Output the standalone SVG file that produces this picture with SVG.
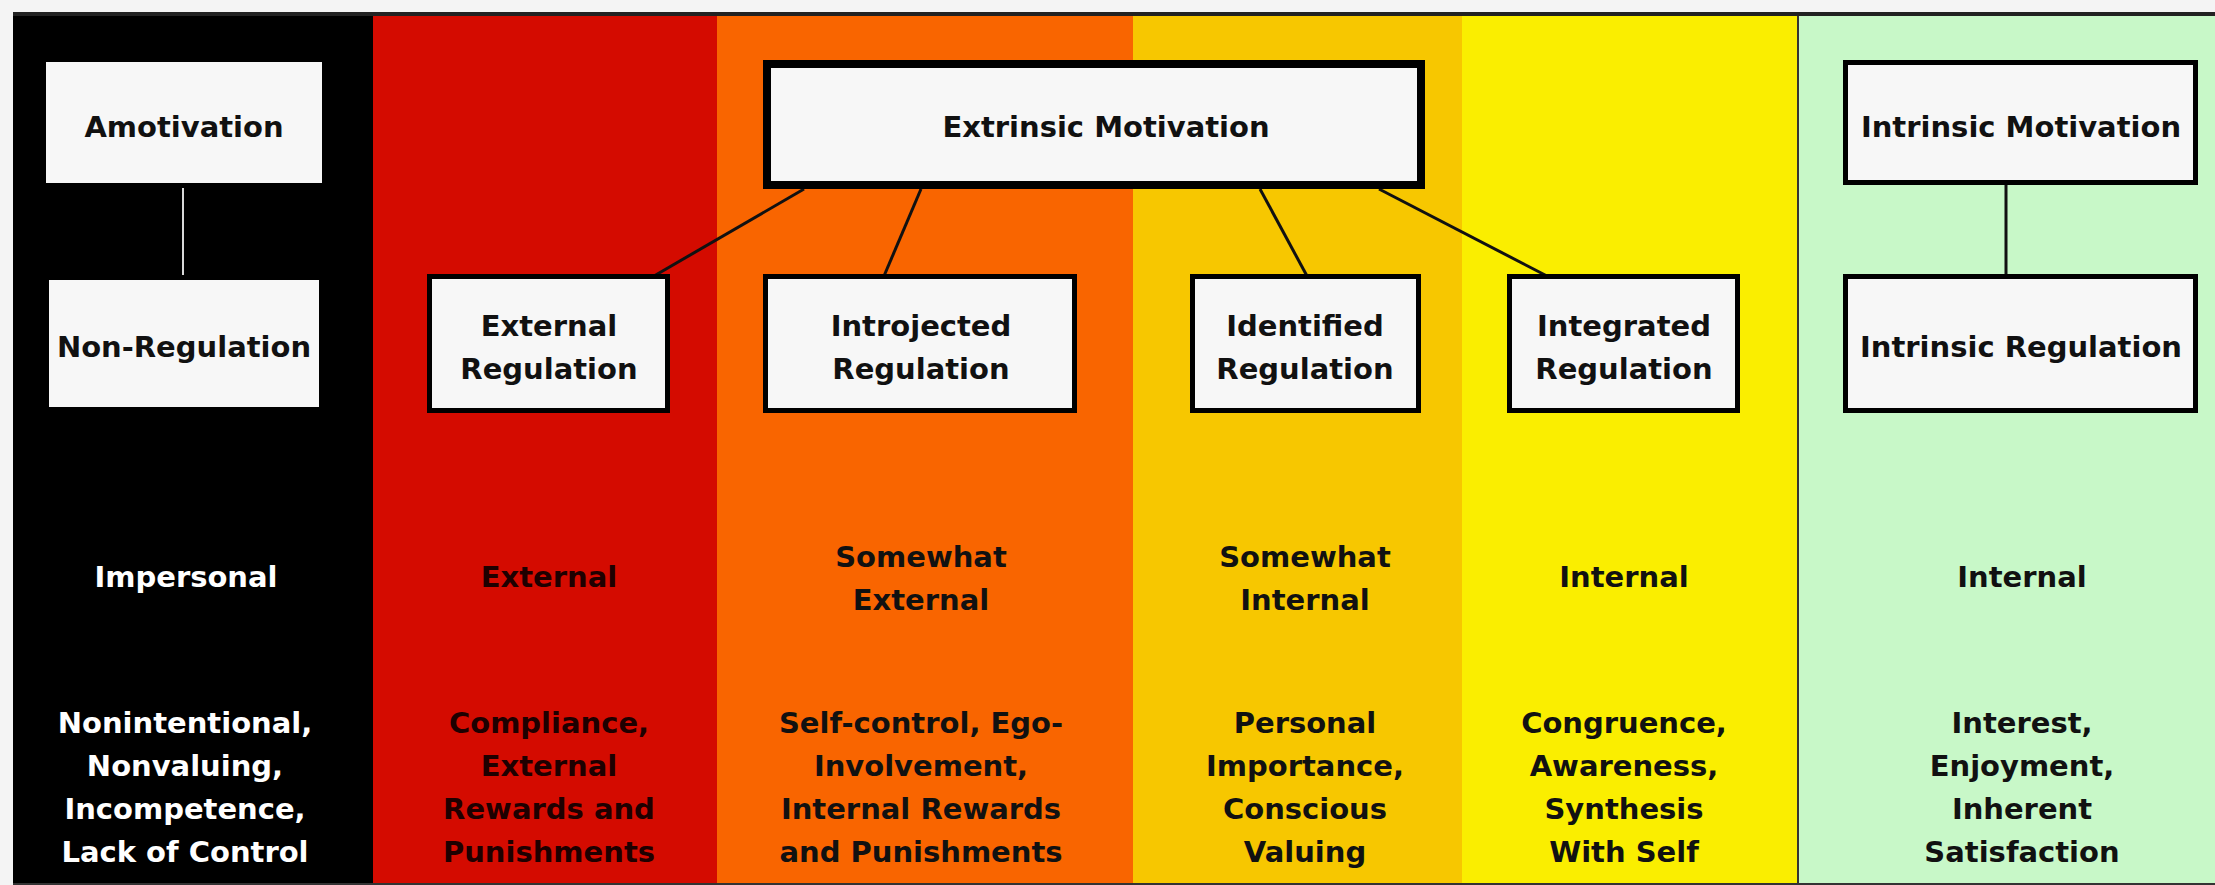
<svg xmlns="http://www.w3.org/2000/svg" width="2215" height="885" viewBox="0 0 2215 885">
<style>
.t{font-family:"DejaVu Sans","Liberation Sans",sans-serif;font-weight:bold;font-size:29px;text-anchor:middle;fill:#111}
.w{fill:#ffffff}
.r{fill:#1e0000}
.box{fill:#f7f7f7;stroke:#000;stroke-width:5}
.con{stroke:#111;stroke-width:3;fill:none}
</style>
<rect x="0" y="0" width="2215" height="885" fill="#f4f4f4"/>
<g id="columns">
<rect x="13" y="14" width="360" height="871" fill="#000"/>
<rect x="373" y="14" width="344" height="871" fill="#d40b00"/>
<rect x="717" y="14" width="416" height="871" fill="#f96500"/>
<rect x="1133" y="14" width="329" height="871" fill="#f7c700"/>
<rect x="1462" y="14" width="336" height="871" fill="#faee00"/>
<rect x="1798" y="14" width="417" height="871" fill="#c8f8c8"/>
<line x1="1798" y1="14" x2="1798" y2="885" stroke="#333" stroke-width="2"/>
<line x1="13" y1="14" x2="2215" y2="14" stroke="#222" stroke-width="4"/>
<line x1="13" y1="884" x2="2215" y2="884" stroke="#333" stroke-width="2"/>
</g>
<g id="connectors">
<line x1="183" y1="183" x2="183" y2="280" stroke="#d8d8d8" stroke-width="2"/>
<line class="con" x1="804" y1="189" x2="654" y2="276"/>
<line class="con" x1="921" y1="189" x2="884" y2="276"/>
<line class="con" x1="1260" y1="189" x2="1307" y2="276"/>
<line class="con" x1="1379" y1="189" x2="1547" y2="276"/>
<line class="con" x1="2006" y1="185" x2="2006" y2="276"/>
</g>
<g id="amotivation">
<rect class="box" x="43.5" y="59.5" width="281" height="126"/>
<text class="t" x="184" y="137">Amotivation</text>
</g>
<g id="non-regulation">
<rect class="box" x="46.5" y="277.5" width="275" height="132"/>
<text class="t" x="184" y="357">Non-Regulation</text>
</g>
<g id="extrinsic-motivation">
<rect x="767" y="64" width="654" height="121" fill="#f7f7f7" stroke="#000" stroke-width="8"/>
<text class="t" x="1106" y="137">Extrinsic Motivation</text>
</g>
<g id="external-regulation">
<rect class="box" x="429.5" y="276.5" width="238" height="134"/>
<text class="t" x="549" y="336">External</text>
<text class="t" x="549" y="379">Regulation</text>
</g>
<g id="introjected-regulation">
<rect class="box" x="765.5" y="276.5" width="309" height="134"/>
<text class="t" x="921" y="336">Introjected</text>
<text class="t" x="921" y="379">Regulation</text>
</g>
<g id="identified-regulation">
<rect class="box" x="1192.5" y="276.5" width="226" height="134"/>
<text class="t" x="1305" y="336">Identified</text>
<text class="t" x="1305" y="379">Regulation</text>
</g>
<g id="integrated-regulation">
<rect class="box" x="1509.5" y="276.5" width="228" height="134"/>
<text class="t" x="1624" y="336">Integrated</text>
<text class="t" x="1624" y="379">Regulation</text>
</g>
<g id="intrinsic-motivation">
<rect class="box" x="1845.5" y="62.5" width="350" height="120"/>
<text class="t" x="2021" y="137">Intrinsic Motivation</text>
</g>
<g id="intrinsic-regulation">
<rect class="box" x="1845.5" y="276.5" width="350" height="134"/>
<text class="t" x="2021" y="357">Intrinsic Regulation</text>
</g>
<g id="locus-labels">
<text class="t w" x="186" y="587">Impersonal</text>
<text class="t r" x="549" y="587">External</text>
<text class="t" x="921" y="567">Somewhat</text>
<text class="t" x="921" y="610">External</text>
<text class="t" x="1305" y="567">Somewhat</text>
<text class="t" x="1305" y="610">Internal</text>
<text class="t" x="1624" y="587">Internal</text>
<text class="t" x="2022" y="587">Internal</text>
</g>
<g id="process-labels">
<text class="t w" x="185" y="733">Nonintentional,</text>
<text class="t w" x="185" y="776">Nonvaluing,</text>
<text class="t w" x="185" y="819">Incompetence,</text>
<text class="t w" x="185" y="862">Lack of Control</text>
<text class="t r" x="549" y="733">Compliance,</text>
<text class="t r" x="549" y="776">External</text>
<text class="t r" x="549" y="819">Rewards and</text>
<text class="t r" x="549" y="862">Punishments</text>
<text class="t" x="921" y="733">Self-control, Ego-</text>
<text class="t" x="921" y="776">Involvement,</text>
<text class="t" x="921" y="819">Internal Rewards</text>
<text class="t" x="921" y="862">and Punishments</text>
<text class="t" x="1305" y="733">Personal</text>
<text class="t" x="1305" y="776">Importance,</text>
<text class="t" x="1305" y="819">Conscious</text>
<text class="t" x="1305" y="862">Valuing</text>
<text class="t" x="1624" y="733">Congruence,</text>
<text class="t" x="1624" y="776">Awareness,</text>
<text class="t" x="1624" y="819">Synthesis</text>
<text class="t" x="1624" y="862">With Self</text>
<text class="t" x="2022" y="733">Interest,</text>
<text class="t" x="2022" y="776">Enjoyment,</text>
<text class="t" x="2022" y="819">Inherent</text>
<text class="t" x="2022" y="862">Satisfaction</text>
</g>
</svg>
